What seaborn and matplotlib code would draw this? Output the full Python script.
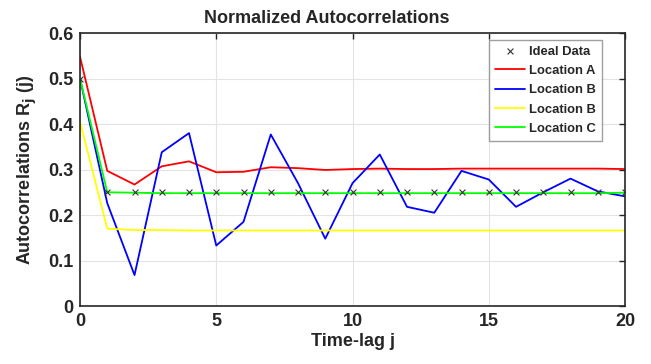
import numpy as np
import pandas as pd
import matplotlib
matplotlib.use("Agg")
import matplotlib.pyplot as plt
import seaborn as sns

# time lags
lags = list(range(0, 21))

# series
ideal = [0.5] + [0.25] * 20
loc_a = [0.548, 0.297, 0.267, 0.307, 0.318, 0.294, 0.295, 0.305, 0.303, 0.299, 0.301,
         0.302, 0.301, 0.301, 0.302, 0.302, 0.302, 0.302, 0.302, 0.302, 0.301]
loc_b = [0.500, 0.226, 0.068, 0.338, 0.380, 0.133, 0.185, 0.377, 0.270, 0.148, 0.270,
         0.333, 0.218, 0.205, 0.297, 0.278, 0.218, 0.250, 0.280, 0.252, 0.241]
loc_b2 = [0.405, 0.170, 0.167, 0.167, 0.166, 0.166, 0.166, 0.166, 0.166, 0.166, 0.166,
          0.166, 0.166, 0.166, 0.166, 0.166, 0.166, 0.166, 0.166, 0.166, 0.166]
loc_c = [0.500, 0.250, 0.249, 0.248, 0.248, 0.248, 0.248, 0.248, 0.248, 0.248, 0.248,
         0.248, 0.248, 0.248, 0.248, 0.248, 0.248, 0.248, 0.248, 0.248, 0.249]

series = [("Location A", loc_a, "#ff0000"),
          ("Location B", loc_b, "#0000ff"),
          ("Location B", loc_b2, "#ffff00"),
          ("Location C", loc_c, "#00ff00")]

sns.set_theme(style="white")
plt.rcParams["font.family"] = ["Liberation Sans", "DejaVu Sans"]
plt.rcParams["font.weight"] = "bold"

fig = plt.figure(figsize=(6.51, 3.64), dpi=100)
ax = fig.add_axes([0.1229, 0.1593, 0.8372, 0.75])

sns.scatterplot(x=lags, y=ideal, marker="x", color="#333333", s=18, linewidth=0.8,
                label="Ideal Data", ax=ax, zorder=5)
for name, vals, col in series:
    sns.lineplot(x=lags, y=vals, color=col, linewidth=1.3, label=name, ax=ax)

ax.set_xlim(0, 20)
ax.set_ylim(0, 0.6)
ax.set_xticks([0, 5, 10, 15, 20])
ax.set_yticks(np.arange(0, 0.61, 0.1))
ax.set_yticklabels(["0", "0.1", "0.2", "0.3", "0.4", "0.5", "0.6"])
ax.grid(True, color="#e3e3e3", linewidth=0.8)
ax.set_axisbelow(True)
ax.tick_params(direction="in", length=4, width=1, labelsize=13, top=True, right=True,
               colors="#262626", labelcolor="#262626", pad=5)
for s in ax.spines.values():
    s.set_color("#262626")
    s.set_linewidth(1.2)

# title sits a bit left of centre in the original
ax.set_title("Normalized Autocorrelations", fontsize=13, fontweight="bold", pad=7, x=0.453)
ax.set_xlabel("Time-lag j", fontsize=13, fontweight="bold", color="#262626", labelpad=2)
ax.set_ylabel("Autocorrelations R$_\\mathbf{j}$ (j)", fontsize=13, fontweight="bold",
              color="#262626", labelpad=6)

leg = ax.legend(loc="upper right", bbox_to_anchor=(0.957, 0.976), borderaxespad=0,
                fontsize=9.4, frameon=True, fancybox=False, edgecolor="#888888",
                handlelength=2.3, borderpad=0.45, labelspacing=0.55, handletextpad=0.3)
leg.get_frame().set_linewidth(1.0)
for t in leg.get_texts():
    t.set_fontweight("bold")

fig.savefig("out.png", dpi=100)
